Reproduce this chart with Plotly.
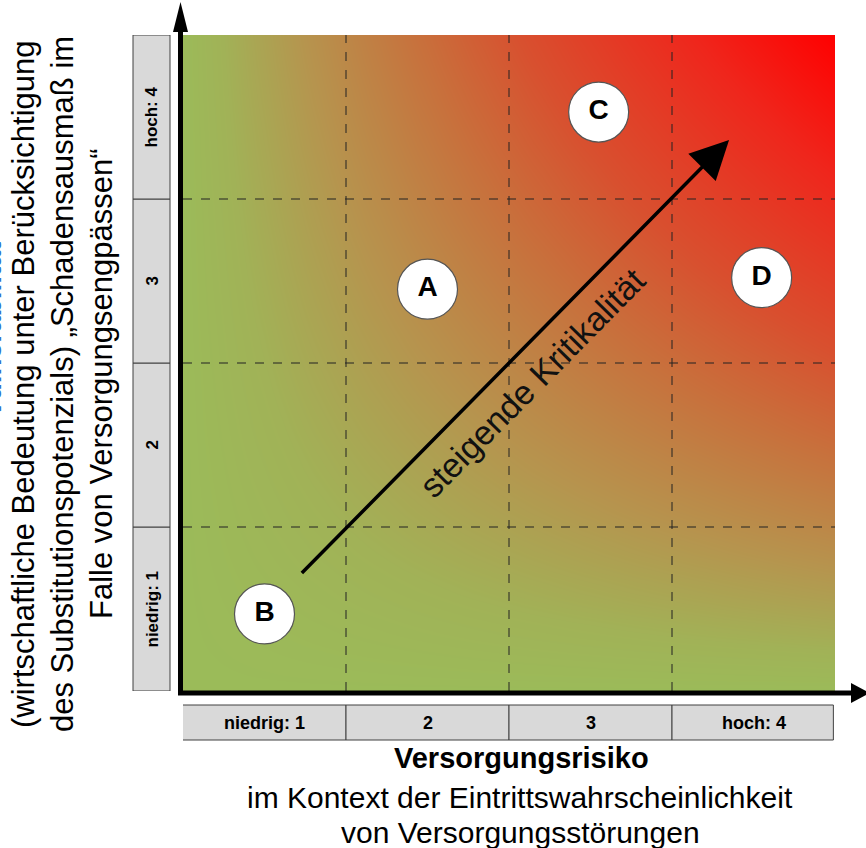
import numpy as np
import plotly.graph_objects as go

W, H = 866, 848

# Category labels of both axes
x_levels = ["niedrig: 1", "2", "3", "hoch: 4"]
y_levels = ["niedrig: 1", "2", "3", "hoch: 4"]

# Labelled positions in the matrix
point_labels = ["A", "B", "C", "D"]
point_x = [1.5, 0.5, 2.55, 3.55]
point_y = [2.45, 0.47, 3.53, 2.52]

# Trend arrow (start -> end)
trend_x = [0.72, 3.35]
trend_y = [0.71, 3.36]
trend_label = "steigende Kritikalität"

x_title = "Versorgungsrisiko"
x_sub = ["im Kontext der Eintrittswahrscheinlichkeit", "von Versorgungsstörungen"]
y_title = "Vulnerabilität"
y_sub = ["(wirtschaftliche Bedeutung unter Berücksichtigung",
         "des Substitutionspotenzials) „Schadensausmaß im",
         "Falle von Versorgungsengpässen“"]


def px(x):
    return x / W


def py(y):
    return 1 - y / H


FONT = "Liberation Sans, Arial, sans-serif"

# plot area in pixels
L, R, T, B = 183, 835, 35, 691

fig = go.Figure()

# background shading: green where either dimension is low, red towards the upper right
g = np.linspace(-0.05, 4.05, 83)
U, V = np.meshgrid(np.clip(g / 4, 0, 1), np.clip(g / 4, 0, 1))
shade = (U * V) ** 0.9
fig.add_trace(go.Heatmap(
    x=g, y=g, z=shade, zmin=0, zmax=1, zsmooth="best", showscale=False,
    hoverinfo="skip",
    colorscale=[[0, "#9BBB59"], [0.08, "#A1B257"], [0.22, "#B6944E"],
                [0.4, "#C8703C"], [0.55, "#D8502F"], [0.8, "#EF261C"], [1, "#FF0000"]],
))

# labelled circles
fig.add_trace(go.Scatter(
    x=point_x, y=point_y, mode="markers+text", text=point_labels,
    textposition="middle center", hoverinfo="skip",
    marker=dict(size=60, color="white", line=dict(color="#555555", width=1.2)),
    textfont=dict(family=FONT, size=28, color="black", weight="bold"),
))

shapes = []
# dashed cell grid
for k in (1, 2, 3):
    shapes.append(dict(type="line", xref="x", yref="y", x0=k, x1=k, y0=0, y1=4,
                       line=dict(color="#222222", width=1, dash="dash")))
    shapes.append(dict(type="line", xref="x", yref="y", x0=0, x1=4, y0=k, y1=k,
                       line=dict(color="#222222", width=1, dash="dash")))

# axis arrows
shapes.append(dict(type="line", xref="paper", yref="paper",
                   x0=px(180.5), x1=px(180.5), y0=py(695), y1=py(25),
                   line=dict(color="black", width=5)))
shapes.append(dict(type="path", xref="paper", yref="paper", fillcolor="black",
                   line=dict(color="black", width=0),
                   path=f"M {px(180.5)},{py(2)} L {px(173)},{py(32)} L {px(188)},{py(32)} Z"))
shapes.append(dict(type="line", xref="paper", yref="paper",
                   x0=px(178), x1=px(858), y0=py(693), y1=py(693),
                   line=dict(color="black", width=5)))
shapes.append(dict(type="path", xref="paper", yref="paper", fillcolor="black",
                   line=dict(color="black", width=0),
                   path=f"M {px(870)},{py(693)} L {px(851)},{py(683)} L {px(851)},{py(703)} Z"))

annotations = []


def label(x, y, text, size, xref="paper", yref="paper", angle=0, color="black", bold=False):
    annotations.append(dict(x=x, y=y, xref=xref, yref=yref, text=text, showarrow=False,
                            textangle=angle, xanchor="center", yanchor="middle",
                            font=dict(family=FONT, size=size, color=color,
                                      weight="bold" if bold else "normal")))


# category boxes along the bottom
for i, lab in enumerate(x_levels):
    shapes.append(dict(type="rect", xref="x", yref="paper", x0=i - 0.02 if i == 0 else i,
                       x1=i + 1 if i < 3 else 3.99,
                       y0=py(740), y1=py(705), fillcolor="#D9D9D9",
                       line=dict(color="#404040", width=1)))
    label(i + 0.5, py(722.5), lab, 18, xref="x", bold=True)
# category boxes along the left side
for i, lab in enumerate(y_levels):
    shapes.append(dict(type="rect", xref="paper", yref="y", x0=px(133), x1=px(170),
                       y0=i, y1=i + 1, fillcolor="#D9D9D9",
                       line=dict(color="#404040", width=1)))
    label(px(151.5), i + 0.5, lab, 17, yref="y", angle=-90, bold=True)

# trend arrow and its label
annotations.append(dict(x=trend_x[1], y=trend_y[1], ax=trend_x[0], ay=trend_y[0],
                        xref="x", yref="y", axref="x", ayref="y", text="",
                        showarrow=True, arrowhead=2, arrowsize=2.2, arrowwidth=3.5,
                        arrowcolor="black", standoff=0, startstandoff=0))
label(px(532), py(383), trend_label, 34, angle=-45.5, color="#111111")

# x axis title block
label(px(521), py(758), x_title, 29, bold=True)
for j, line in enumerate(x_sub):
    label(px(520), py(797 + 35 * j), line, 30)

# y axis title block (first line runs past the left edge)
label(px(-8), py(330), y_title, 28, angle=-90, color="#2E75D0", bold=True)
for j, line in enumerate(y_sub):
    label(px(23 + 39 * j), py(384), line, 31, angle=-90)

fig.update_layout(
    width=W, height=H,
    margin=dict(l=0, r=0, t=0, b=0),
    paper_bgcolor="white", plot_bgcolor="white",
    showlegend=False,
    shapes=shapes, annotations=annotations,
    xaxis=dict(domain=[px(L), px(R)], range=[0, 4], visible=False, fixedrange=True),
    yaxis=dict(domain=[py(B), py(T)], range=[0, 4], visible=False, fixedrange=True),
)

fig.write_html("out.html")
